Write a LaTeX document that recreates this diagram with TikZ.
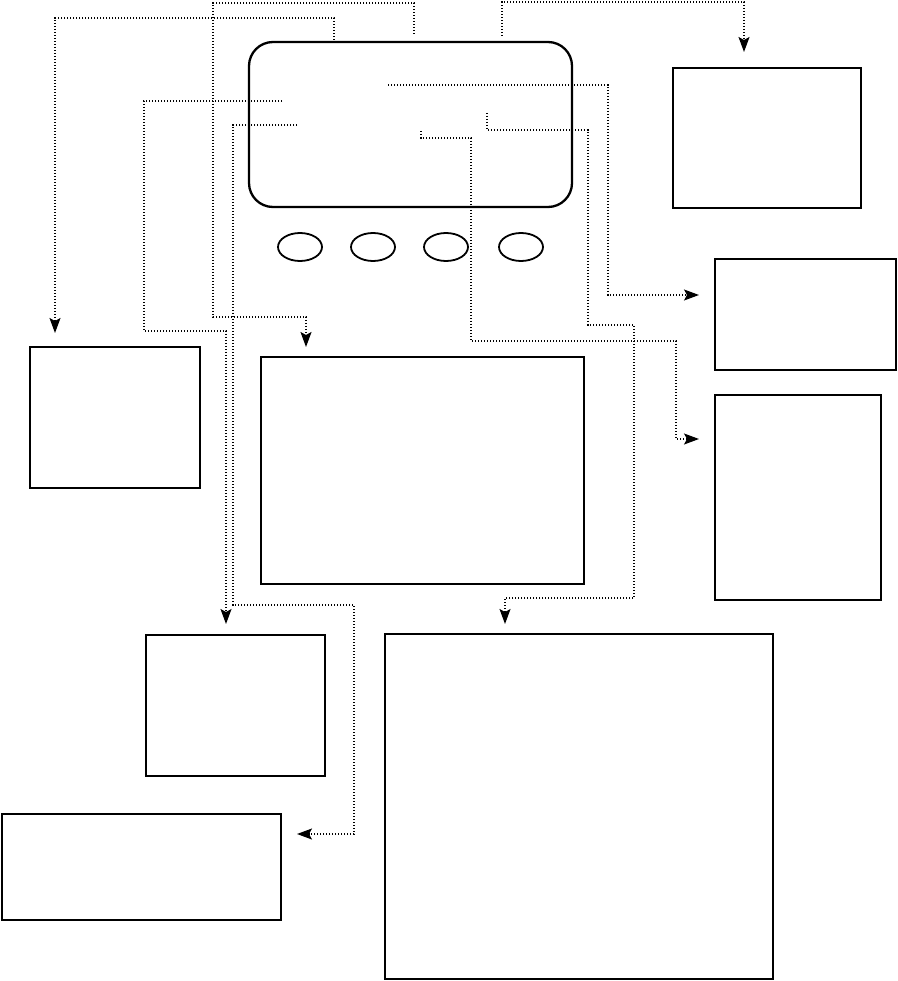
\documentclass[tikz,border=0pt]{standalone}
\usetikzlibrary{arrows.meta,shapes.geometric}
\begin{document}
\begin{tikzpicture}[x=1pt,y=-1pt,
  box/.style={draw, line width=2.3pt, inner sep=0pt, outer sep=0pt, anchor=north west},
  btn/.style={draw, ellipse, line width=1.8pt, inner sep=0pt, outer sep=0pt, minimum width=44pt, minimum height=28pt},
  conn/.style={line width=1.3pt, dash pattern=on 1.2pt off 1.8pt, -{Stealth[length=15pt,width=11pt,inset=3pt,sep=0pt]}}]
\useasboundingbox (0,0) rectangle (897,981);
% device
\node[box, rounded corners=24pt, minimum width=323pt, minimum height=165pt] (dev) at (249,42) {};
\node[btn] (b1) at (300,247) {};
\node[btn] (b2) at (373,247) {};
\node[btn] (b3) at (446,247) {};
\node[btn] (b4) at (521,247) {};
% boxes
\node[box, minimum width=170pt, minimum height=141pt] (A) at (30,347) {};
\node[box, minimum width=323pt, minimum height=227pt] (B) at (261,357) {};
\node[box, minimum width=179pt, minimum height=141pt] (C) at (146,635) {};
\node[box, minimum width=279pt, minimum height=106pt] (D) at (2,814) {};
\node[box, minimum width=388pt, minimum height=345pt] (E) at (385,634) {};
\node[box, minimum width=188pt, minimum height=140pt] (F) at (673,68) {};
\node[box, minimum width=181pt, minimum height=111pt] (G) at (715,259) {};
\node[box, minimum width=166pt, minimum height=205pt] (H) at (715,395) {};
% start points
\coordinate (s1) at (334,40);
\coordinate (s2) at (414,34);
\coordinate (s3) at (282,101);
\coordinate (s4) at (297,125);
\coordinate (s5) at (502,36);
\coordinate (s6) at (388,85);
\coordinate (s7) at (487,113);
\coordinate (s8) at (421,131);
% connectors
\draw[conn, shorten >=14pt] (s1) -- (334,18) -- (55,18) -- (55,18 |- A.north);
\draw[conn, shorten >=10pt] (s2) -- (414,3) -- (213,3) -- (213,317) -- (306,317) -- (306,317 |- B.north);
\draw[conn, shorten >=11pt] (s3) -- (144,101) -- (144,331) -- (226,331) -- (226,331 |- C.north);
\draw[conn, shorten >=16pt] (s4) -- (233,125) -- (233,605) -- (354,605) -- (354,834) -- (354,834 -| D.east);
\draw[conn, shorten >=16pt] (s5) -- (502,2) -- (744,2) -- (744,2 |- F.north);
\draw[conn, shorten >=16pt] (s6) -- (608,85) -- (608,295) -- (608,295 -| G.west);
\draw[conn, shorten >=10pt] (s7) -- (487,130) -- (588,130) -- (588,325) -- (634,325) -- (634,598) -- (505,598) -- (505,598 |- E.north);
\draw[conn, shorten >=16pt] (s8) -- (421,138) -- (471,138) -- (471,341) -- (676,341) -- (676,439) -- (676,439 -| H.west);
\end{tikzpicture}
\end{document}
